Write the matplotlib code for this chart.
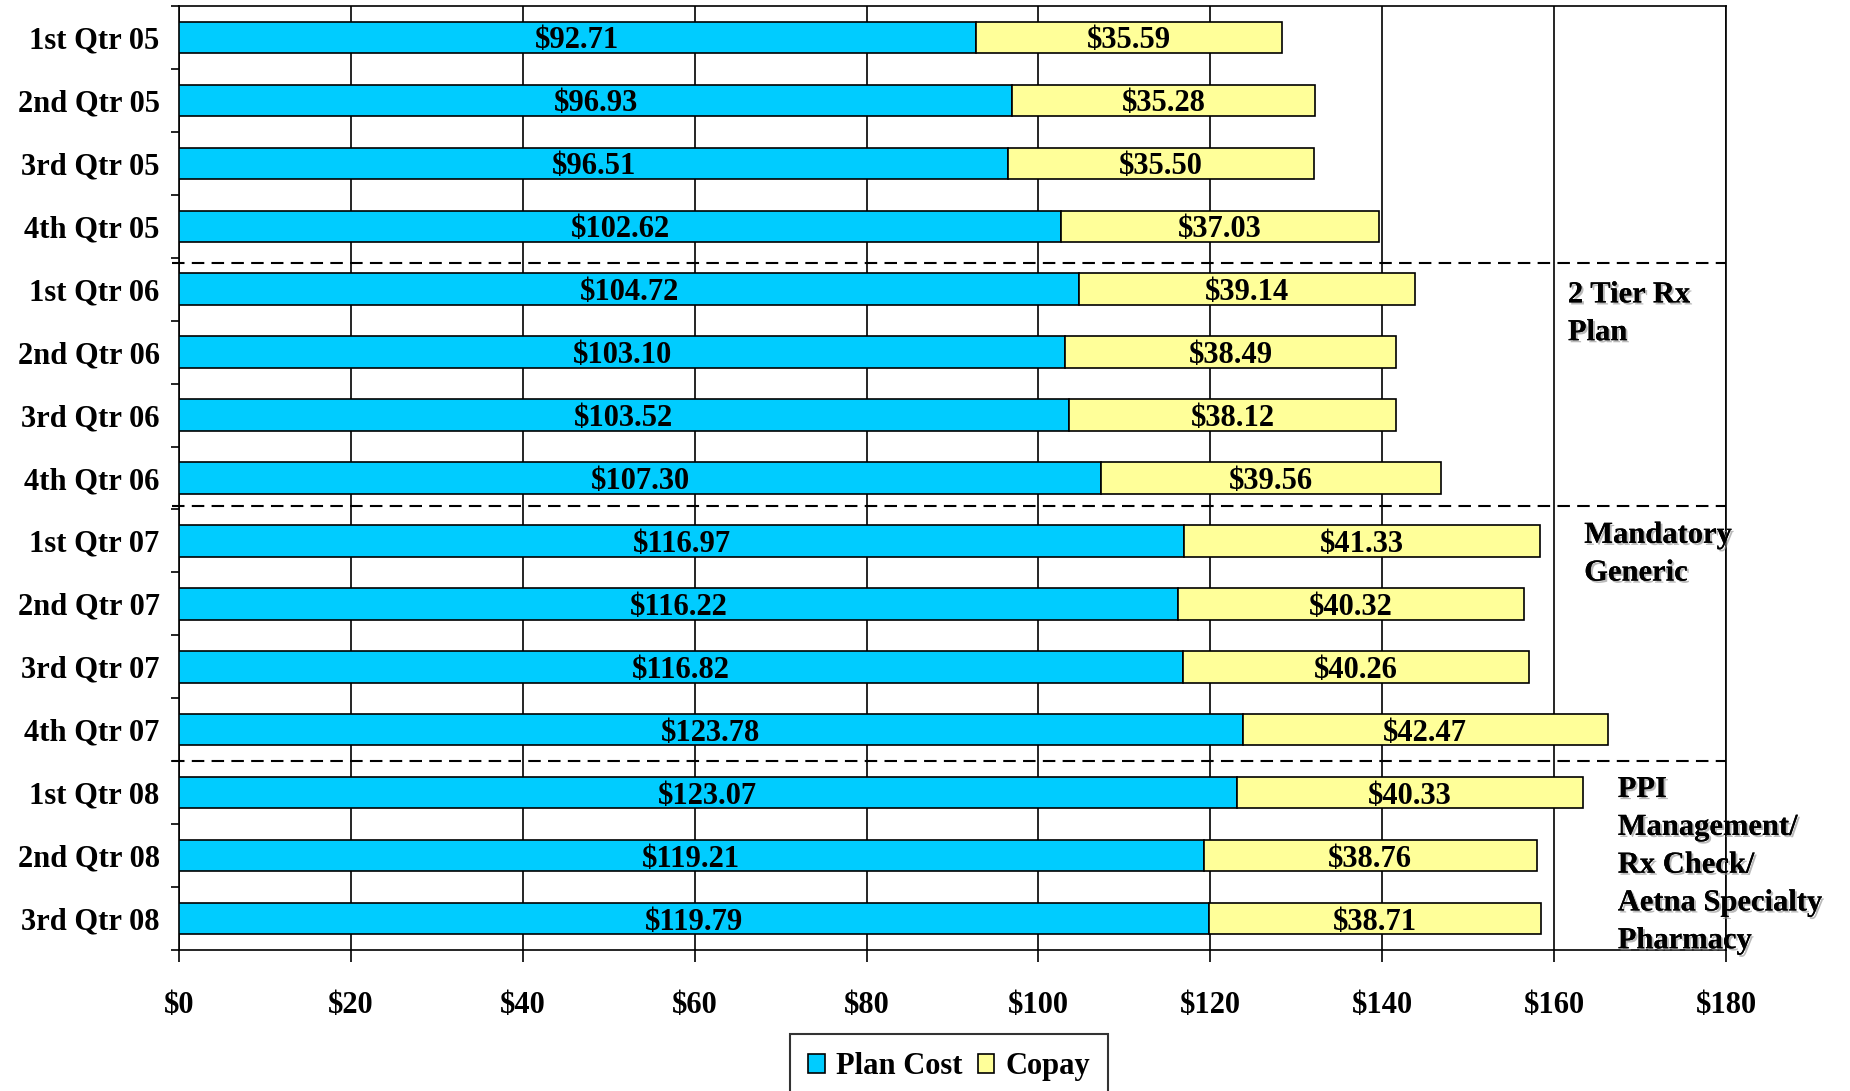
import matplotlib
matplotlib.use("Agg")
import matplotlib.pyplot as plt
import matplotlib.patheffects as pe
import numpy as np

quarters = ["1st Qtr 05", "2nd Qtr 05", "3rd Qtr 05", "4th Qtr 05",
            "1st Qtr 06", "2nd Qtr 06", "3rd Qtr 06", "4th Qtr 06",
            "1st Qtr 07", "2nd Qtr 07", "3rd Qtr 07", "4th Qtr 07",
            "1st Qtr 08", "2nd Qtr 08", "3rd Qtr 08"]
plan_cost = [92.71, 96.93, 96.51, 102.62, 104.72, 103.10, 103.52, 107.30,
             116.97, 116.22, 116.82, 123.78, 123.07, 119.21, 119.79]
copay = [35.59, 35.28, 35.50, 37.03, 39.14, 38.49, 38.12, 39.56,
         41.33, 40.32, 40.26, 42.47, 40.33, 38.76, 38.71]
x_ticks = [0, 20, 40, 60, 80, 100, 120, 140, 160, 180]
x_tick_labels = ["$" + str(v) for v in x_ticks]
series_names = ["Plan Cost", "Copay"]
annotations = ["2 Tier Rx\nPlan", "Mandatory\nGeneric",
               "PPI\nManagement/\nRx Check/\nAetna Specialty\nPharmacy"]

plt.rcParams['font.family'] = ['Liberation Serif', 'DejaVu Serif']
plt.rcParams['font.weight'] = 'bold'
FS = 22

fig = plt.figure(figsize=(18.5, 10.91), dpi=100)
ax = fig.add_axes([179/1850, 1 - 950/1091, (1726-179)/1850, (950-6)/1091])

y = np.arange(len(quarters))
blue = "#00CCFF"
yellow = "#FFFF99"
h = 0.5
b1 = ax.barh(y, plan_cost, height=h, color=blue, edgecolor="black", linewidth=1.2,
             label=series_names[0], zorder=3)
b2 = ax.barh(y, copay, left=plan_cost, height=h, color=yellow, edgecolor="black",
             linewidth=1.2, label=series_names[1], zorder=3)

for i in range(len(quarters)):
    ax.text(plan_cost[i] / 2, y[i], "${:.2f}".format(plan_cost[i]), ha="center",
            va="center_baseline", fontsize=FS, fontweight="bold", zorder=5)
    ax.text(plan_cost[i] + copay[i] / 2, y[i], "${:.2f}".format(copay[i]), ha="center",
            va="center_baseline", fontsize=FS, fontweight="bold", zorder=5)

ax.set_xlim(0, 180)
ax.set_ylim(len(quarters) - 0.5, -0.5)
ax.set_xticks(x_ticks)
ax.set_xticklabels(x_tick_labels, fontsize=FS, fontweight="bold")
ax.set_yticks(y)
ax.set_yticklabels(quarters, fontsize=FS, fontweight="bold")
ax.set_yticks(np.arange(-0.5, len(quarters), 1.0), minor=True)
ax.tick_params(axis="y", which="major", length=0, pad=14)
ax.tick_params(axis="y", which="minor", length=5.5, width=1.2, direction="out")
ax.tick_params(axis="x", which="major", length=8.5, width=1.2, direction="out", pad=21)

ax.grid(axis="x", color="black", linewidth=1.2, zorder=1)
ax.set_axisbelow(True)
for s in ax.spines.values():
    s.set_linewidth(1.2)
    s.set_color("black")

# group separators
for yy in [3.58, 7.45, 11.5]:
    ax.plot([-0.8, 180], [yy, yy], color="black", linewidth=1.5,
            linestyle=(0, (6, 3.5)), clip_on=False, zorder=4)

shadow = [pe.withSimplePatchShadow(offset=(1.5, -1.5), shadow_rgbFace="0.55", alpha=0.6),
          pe.Normal()]
ann_pos = [(161.6, 3.86), (163.5, 7.68), (167.4, 11.72)]
for (ax_x, ax_y), txt in zip(ann_pos, annotations):
    ax.text(ax_x, ax_y, txt, ha="left", va="top", fontsize=FS, fontweight="bold",
            linespacing=1.4, zorder=6, clip_on=False, path_effects=shadow)

leg = fig.legend(handles=[b1, b2], labels=series_names, loc="upper center",
                 bbox_to_anchor=(949/1850, 1 - 1034/1091), ncol=2, fontsize=FS,
                 frameon=True, fancybox=False, edgecolor="black",
                 handlelength=0.55, handleheight=0.55, handletextpad=0.35,
                 columnspacing=0.5, borderpad=0.6, borderaxespad=0)
leg.get_frame().set_linewidth(1.5)
for t in leg.get_texts():
    t.set_fontweight("bold")

fig.savefig("out.png", dpi=100)
